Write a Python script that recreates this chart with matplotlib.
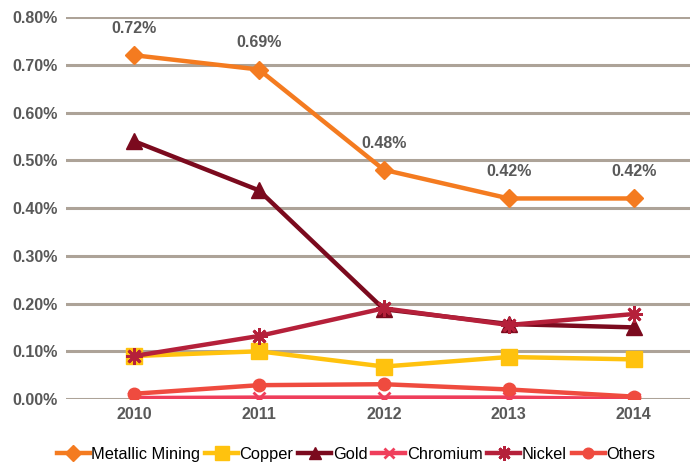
import matplotlib as mpl
mpl.use('Agg')
import matplotlib.pyplot as plt
import numpy as np

# data (percent)
years = ['2010', '2011', '2012', '2013', '2014']
metallic = [0.72, 0.69, 0.48, 0.42, 0.42]
copper = [0.090, 0.100, 0.068, 0.088, 0.083]
gold = [0.54, 0.437, 0.188, 0.157, 0.150]
chromium = [0.002, 0.003, 0.003, 0.003, 0.000]
nickel = [0.090, 0.132, 0.190, 0.155, 0.178]
others = [0.011, 0.029, 0.031, 0.020, 0.005]
metallic_labels = ['0.72%', '0.69%', '0.48%', '0.42%', '0.42%']

plt.rcParams['font.family'] = ['Liberation Sans', 'DejaVu Sans']

fig = plt.figure(figsize=(6.9, 4.65), dpi=100)
ax = fig.add_axes([0.0957, 0.1419, 0.904, 0.8215])

x = np.arange(len(years))
lw = 3.2
ax.plot(x, metallic, color='#F47B20', lw=lw, marker='D', ms=9, label='Metallic Mining', zorder=6)
ax.plot(x, copper, color='#FFC20E', lw=lw, marker='s', ms=12, label='Copper', zorder=3)
ax.plot(x, gold, color='#7B0A1E', lw=lw, marker='^', ms=11, label='Gold', zorder=4)
ax.plot(x, chromium, color='#EF3E5B', lw=lw, marker='x', ms=8, mew=2, label='Chromium', zorder=2)
ax.plot(x, nickel, color='#B5203A', lw=lw, marker=(8, 2, 0), ms=12, mew=2, label='Nickel', zorder=5)
ax.plot(x, others, color='#EF4B3F', lw=lw, marker='o', ms=9, label='Others', zorder=3)

for xi, v, t in zip(x, metallic, metallic_labels):
    ax.text(xi, v + 0.04, t, ha='center', va='bottom', fontsize=11.5,
            fontweight='bold', color='#595959')

ax.set_xlim(-0.544, 4.448)
ax.set_ylim(0, 0.8)
ax.set_yticks(np.arange(0, 0.81, 0.1))
ax.set_yticklabels(['%.2f%%' % v for v in np.arange(0, 0.81, 0.1)])
ax.set_xticks(x)
ax.set_xticklabels(years)
ax.grid(axis='y', color='#ADA398', lw=2.2)
ax.set_axisbelow(True)
for s in ax.spines.values():
    s.set_visible(False)
ax.tick_params(length=0, labelsize=11.5, labelcolor='#595959', pad=6)
for lab in ax.get_xticklabels() + ax.get_yticklabels():
    lab.set_fontweight('bold')

fig.legend(loc='lower center', bbox_to_anchor=(0.516, -0.025), ncol=6, frameon=False,
           fontsize=11.8, handlelength=2.0, handletextpad=0.1, columnspacing=0.3,
           markerscale=0.85)

fig.savefig('out.png', dpi=100)
